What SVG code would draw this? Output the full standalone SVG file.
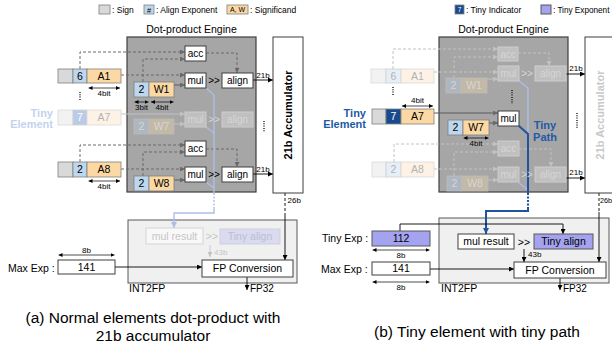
<svg xmlns="http://www.w3.org/2000/svg" width="612" height="352" viewBox="0 0 612 352">
<defs>
<style>
text{font-family:"Liberation Sans",Arial,Helvetica,sans-serif;fill:#000}
.s{font-size:10.5px}
.b{font-size:10px}
.m{text-anchor:middle}
.sm{font-size:8px}
.lg{font-size:8.5px}
.cap{font-size:15.5px;text-anchor:middle}
.eng{fill:#a6a6a6;stroke:#3f3f3f;stroke-width:1.2}
.bx{fill:#fff;stroke:#3f3f3f;stroke-width:1}
.sg{fill:#d9d9d9;stroke:#7f7f7f;stroke-width:.8}
.ae{fill:#bdd7ee;stroke:#7f7f7f;stroke-width:.8}
.sf{fill:#fcd9a4;stroke:#7f7f7f;stroke-width:.8}
.ti{fill:#1a4a8e;stroke:#7f7f7f;stroke-width:.8}
.te{fill:#a3a3ef;stroke:#595959;stroke-width:1}
.fbx{fill:#c0c0c0;stroke:#cdcdcd;stroke-width:1}
.fae{fill:#aeb7c0;stroke:#bcbcbc;stroke-width:.8}
.fsf{fill:#c4b8a6;stroke:#bcbcbc;stroke-width:.8}
.ftx{fill:#d6d6d6}
.fsg{fill:#f2f2f2;stroke:#d9d9d9;stroke-width:.8}
.fae2{fill:#e6eff8;stroke:#d0d0d0;stroke-width:.8}
.fsf2{fill:#fef2e6;stroke:#d9d9d9;stroke-width:.8}
.fti{fill:#b9cbe6;stroke:#d0d0d0;stroke-width:.8}
.ftx2{fill:#b3b3b3}
.dl{fill:none;stroke:#6a6a6a;stroke-width:1;stroke-dasharray:3 2}
.sl{fill:none;stroke:#5a5a5a;stroke-width:1}
.fdl{fill:none;stroke:#c2c2c2;stroke-width:1;stroke-dasharray:3 2}
.fsl{fill:none;stroke:#c2c2c2;stroke-width:1}
.kl{fill:none;stroke:#000;stroke-width:.9}
.dim{fill:none;stroke:#000;stroke-width:.7}
.dots{fill:none;stroke:#000;stroke-width:1.3;stroke-dasharray:1 1.3}
.tb{font-weight:bold;font-size:11px}
</style>
<marker id="ak" viewBox="0 0 6 6" refX="6" refY="3" markerWidth="5" markerHeight="5" markerUnits="userSpaceOnUse" orient="auto"><path d="M0,0L6,3L0,6z" fill="#000"/></marker>
<marker id="ag" viewBox="0 0 6 6" refX="6" refY="3" markerWidth="5" markerHeight="5" markerUnits="userSpaceOnUse" orient="auto"><path d="M0,0L6,3L0,6z" fill="#6a6a6a"/></marker>
<marker id="agl" viewBox="0 0 6 6" refX="6" refY="3" markerWidth="5" markerHeight="5" markerUnits="userSpaceOnUse" orient="auto"><path d="M0,0L6,3L0,6z" fill="#c2c2c2"/></marker>
<marker id="ab" viewBox="0 0 6 6" refX="6" refY="3" markerWidth="6" markerHeight="6" markerUnits="userSpaceOnUse" orient="auto"><path d="M0,0L6,3L0,6z" fill="#1f55a0"/></marker>
<marker id="abl" viewBox="0 0 6 6" refX="6" refY="3" markerWidth="6" markerHeight="6" markerUnits="userSpaceOnUse" orient="auto"><path d="M0,0L6,3L0,6z" fill="#aebde8"/></marker>
<marker id="dm" viewBox="0 0 6 6" refX="6" refY="3" markerWidth="4" markerHeight="4" markerUnits="userSpaceOnUse" orient="auto-start-reverse"><path d="M0,0L6,3L0,6z" fill="#000"/></marker>
</defs>

<!-- legends -->
<g id="legend-left">
<rect x="99" y="5" width="11" height="9" class="sg"/>
<text x="112" y="13" class="lg">: Sign</text>
<rect x="144" y="5" width="10" height="9" class="ae"/>
<text x="149" y="12.5" class="m" font-size="7.5">#</text>
<text x="156" y="13" class="lg">: Align Exponent</text>
<rect x="227" y="5" width="21" height="9" class="sf"/>
<text x="237.5" y="12.3" class="m" font-size="7">A, W</text>
<text x="250" y="13" class="lg">: Significand</text>
</g>
<g id="legend-right">
<rect x="455" y="5" width="9" height="9" class="ti"/>
<text x="459.5" y="12.3" class="m" font-size="6.5" style="fill:#fff">7</text>
<text x="466" y="13" class="lg">: Tiny Indicator</text>
<rect x="541" y="5" width="10" height="9" class="te"/>
<text x="553" y="13" font-size="8.2px">: Tiny Exponent</text>
</g>

<!-- ================= LEFT PANEL (a) ================= -->
<g id="a-engine">
<text x="191.5" y="33" class="s m">Dot-product Engine</text>
<rect x="127" y="37" width="129" height="155" class="eng"/>
</g>
<g id="a-int2fp">
<rect x="128" y="220" width="169" height="63" fill="#f0f0f0" stroke="#595959" stroke-width="1"/>
<text x="129" y="292" class="s">INT2FP</text>
</g>

<g id="a-connectors">
<path class="dl" d="M80,69V52H185" marker-end="url(#ag)"/>
<path class="dl" d="M143,82V59H185" marker-end="url(#ag)"/>
<path class="dl" d="M121,75H185" marker-end="url(#ag)"/>
<path class="sl" d="M174,85H185" marker-end="url(#ag)"/>
<path class="dl" d="M206,53H237V73" marker-end="url(#ag)"/>
<path class="kl" d="M253,80H273" marker-end="url(#ak)"/>
<text x="263" y="77.5" class="sm m">21b</text>
<path class="fsl" d="M121,114H185" marker-end="url(#agl)"/>
<path class="fsl" d="M174,124H185" marker-end="url(#agl)"/>
<path class="dl" d="M80,162V145H185" marker-end="url(#ag)"/>
<path class="dl" d="M143,176V152H185" marker-end="url(#ag)"/>
<path class="dl" d="M121,169H185" marker-end="url(#ag)"/>
<path class="sl" d="M174,180H185" marker-end="url(#ag)"/>
<path class="dl" d="M206,149H237V167" marker-end="url(#ag)"/>
<path class="kl" d="M253,174H273" marker-end="url(#ak)"/>
<text x="263" y="171.5" class="sm m">21b</text>
<path class="dots" d="M264,121V132"/>
<path class="dots" d="M80,92V100"/>
<g fill="none" stroke="#aebde8" stroke-width="1.4">
<path d="M206,88L214,95V193"/>
<path d="M206,127L214,133"/>
<path d="M206,182L214,188"/>
<path d="M214,193V209" stroke-dasharray="2 1.5"/>
<path d="M214,209V213H174V228" marker-end="url(#abl)"/>
</g>
<path d="M210,245V257" fill="none" stroke="#c6c6c6" stroke-width=".9" marker-end="url(#agl)"/>
<text x="214" y="255" class="sm" style="fill:#c6c6c6">43b</text>
<path class="kl" d="M115,267H202" marker-end="url(#ak)"/>
<path d="M285,193V216" fill="none" stroke="#000" stroke-width=".9" stroke-dasharray="3 2"/>
<path class="kl" d="M285,216V260" marker-end="url(#ak)"/>
<text x="287.5" y="203" class="sm">26b</text>
<path class="kl" d="M247,277V290" marker-end="url(#ak)"/>
<text x="250" y="292" class="b">FP32</text>
<path class="dim" d="M88.5,88H120" marker-start="url(#dm)" marker-end="url(#dm)"/>
<text x="104" y="95.5" class="sm m">4bit</text>
<path class="dim" d="M134.5,102H148.5" marker-start="url(#dm)" marker-end="url(#dm)"/>
<text x="141.5" y="110" class="sm m">3bit</text>
<path class="dim" d="M151,102H173.5" marker-start="url(#dm)" marker-end="url(#dm)"/>
<text x="162" y="110" class="sm m">4bit</text>
<path class="dim" d="M88.5,181H120" marker-start="url(#dm)" marker-end="url(#dm)"/>
<text x="104" y="188.5" class="sm m">4bit</text>
<path class="dim" d="M58.5,255H114.5" marker-start="url(#dm)" marker-end="url(#dm)"/>
<text x="86.5" y="252.5" class="sm m">8b</text>
</g>

<g id="a-accumulator">
<rect x="273" y="37" width="30" height="156" class="bx"/>
<text transform="translate(292,115) rotate(-90)" class="m" font-size="11" font-weight="bold">21b Accumulator</text>
</g>
<g id="a-row-a1">
<rect x="58" y="69" width="15" height="14" class="sg"/>
<rect x="73" y="69" width="14" height="14" class="ae"/><text x="80" y="79.8" class="s m">6</text>
<rect x="87" y="69" width="34" height="14" class="sf"/><text x="104" y="79.8" class="s m">A1</text>
</g>
<g id="a-tiny-label">
<text x="53" y="116.5" text-anchor="end" class="tb" style="fill:#c3d3ee">Tiny</text>
<text x="53" y="128" text-anchor="end" class="tb" style="fill:#c3d3ee">Element</text>
</g>
<g id="a-row-a7">
<rect x="58" y="110" width="15" height="15" class="fsg"/>
<rect x="73" y="110" width="14" height="15" class="fti"/><text x="80" y="121.3" class="s m" style="fill:#fff">7</text>
<rect x="87" y="110" width="34" height="15" class="fsf2"/><text x="104" y="121.3" class="s m ftx2">A7</text>
</g>
<g id="a-row-a8">
<rect x="58" y="162" width="15" height="15" class="sg"/>
<rect x="73" y="162" width="14" height="15" class="ae"/><text x="80" y="173.3" class="s m">2</text>
<rect x="87" y="162" width="34" height="15" class="sf"/><text x="104" y="173.3" class="s m">A8</text>
</g>
<g id="a-w1">
<rect x="134" y="82" width="15" height="15" class="ae"/><text x="141.5" y="93.3" class="s m">2</text>
<rect x="149" y="82" width="25" height="15" class="sf"/><text x="161.5" y="93.3" class="s m">W1</text>
</g>
<g id="a-w7">
<rect x="134" y="119" width="15" height="15" class="fae"/><text x="141.5" y="130.3" class="s m ftx">2</text>
<rect x="149" y="119" width="25" height="15" class="fsf"/><text x="161.5" y="130.3" class="s m ftx">W7</text>
</g>
<g id="a-w8">
<rect x="134" y="176" width="15" height="15" class="ae"/><text x="141.5" y="187.3" class="s m">2</text>
<rect x="149" y="176" width="25" height="15" class="sf"/><text x="161.5" y="187.3" class="s m">W8</text>
</g>
<g id="a-acc1"><rect x="185" y="46" width="21" height="15" class="bx"/><text x="195.5" y="57.1" class="b m">acc</text></g>
<g id="a-mul1"><rect x="185" y="73" width="21" height="15" class="bx"/><text x="195.5" y="84.1" class="b m">mul</text></g>
<text x="214" y="84" class="b m">&gt;&gt;</text>
<g id="a-align1"><rect x="222" y="73" width="31" height="15" class="bx"/><text x="237.5" y="84.1" class="b m">align</text></g>
<g id="a-mul7"><rect x="185" y="112" width="21" height="15" class="fbx"/><text x="195.5" y="123.1" class="b m ftx">mul</text></g>
<text x="214" y="123" class="b m ftx">&gt;&gt;</text>
<g id="a-align7"><rect x="222" y="112" width="31" height="15" class="fbx"/><text x="237.5" y="123.1" class="b m ftx">align</text></g>
<g id="a-acc2"><rect x="185" y="141" width="21" height="15" class="bx"/><text x="195.5" y="152.1" class="b m">acc</text></g>
<g id="a-mul2"><rect x="185" y="167" width="21" height="15" class="bx"/><text x="195.5" y="178.1" class="b m">mul</text></g>
<text x="214" y="178" class="b m">&gt;&gt;</text>
<g id="a-align2"><rect x="222" y="167" width="31" height="15" class="bx"/><text x="237.5" y="178.1" class="b m">align</text></g>

<g id="a-mulresult"><rect x="146" y="228" width="57" height="16" fill="#f8f8f8" stroke="#d4d4d4"/><text x="174.5" y="239.8" class="s m" style="fill:#c6c6c6">mul result</text></g>
<text x="212" y="240" class="s m" style="fill:#c6c6c6">&gt;&gt;</text>
<g id="a-tinyalign"><rect x="220" y="229" width="60" height="15" fill="#dadaf0" stroke="#cfcfdf"/><text x="250" y="240.3" class="s m" style="fill:#bdbdd0">Tiny align</text></g>
<g id="a-fpconv"><rect x="202" y="260" width="91" height="17" class="bx"/><text x="247.5" y="272.3" class="s m">FP Conversion</text></g>
<g id="a-maxexp">
<text x="8" y="272" class="s">Max Exp :</text>
<rect x="58" y="260" width="57" height="14" class="bx"/><text x="86.5" y="270.8" class="s m">141</text>
</g>
<text x="153" y="323" class="cap">(a) Normal elements dot-product with</text>
<text x="153" y="341" class="cap">21b accumulator</text>

<!-- ================= RIGHT PANEL (b) ================= -->
<g id="b-engine">
<text x="503.5" y="33" class="s m">Dot-product Engine</text>
<rect x="439" y="37" width="129" height="155" class="eng"/>
</g>
<g id="b-int2fp">
<rect x="439" y="218" width="170" height="65" fill="#f0f0f0" stroke="#595959" stroke-width="1"/>
<text x="441" y="292" class="s">INT2FP</text>
</g>

<g id="b-connectors">
<path class="fdl" d="M393,69V49H498" marker-end="url(#agl)"/>
<path class="fdl" d="M454,78V57H498" marker-end="url(#agl)"/>
<path class="fdl" d="M434,72H498" marker-end="url(#agl)"/>
<path class="fsl" d="M487,79H498" marker-end="url(#agl)"/>
<path class="fdl" d="M518,53H549V66" marker-end="url(#agl)"/>
<path class="kl" d="M566,74H585" marker-end="url(#ak)"/>
<text x="576" y="71" class="sm m">21b</text>
<path class="sl" d="M434,113H498" marker-end="url(#ag)"/>
<path class="sl" d="M489,123H498" marker-end="url(#ag)"/>
<path class="fdl" d="M394,162V144H498" marker-end="url(#agl)"/>
<path class="fdl" d="M454,176V152H498" marker-end="url(#agl)"/>
<path class="fdl" d="M434,169H498" marker-end="url(#agl)"/>
<path class="fsl" d="M488,180H498" marker-end="url(#agl)"/>
<path class="fdl" d="M519,149H551V167" marker-end="url(#agl)"/>
<path class="kl" d="M566,178H585" marker-end="url(#ak)"/>
<text x="576" y="175" class="sm m">21b</text>
<path class="dots" d="M577,113V128"/>
<path class="dots" d="M393,87V96"/>
<path class="dots" d="M512,90V104"/>
<g fill="none" stroke="#aebde8" stroke-width="1.4">
<path d="M519,81L528,88V134"/>
<path d="M519,183L528,190"/>
</g>
<g fill="none" stroke="#1f55a0" stroke-width="2">
<path d="M519,126L528,134V193"/>
<path d="M528,193V208" stroke-dasharray="2 1.5"/>
<path d="M528,208V211H486V234" marker-end="url(#ab)"/>
</g>
<path class="kl" d="M400,231V224H563V234" marker-end="url(#ak)"/>
<path class="kl" d="M524,249V262" marker-end="url(#ak)"/>
<text x="528" y="257" class="sm">43b</text>
<path class="kl" d="M430,269H514" marker-end="url(#ak)"/>
<path d="M599,193V212" fill="none" stroke="#000" stroke-width=".9" stroke-dasharray="3 2"/>
<path class="kl" d="M599,212V262" marker-end="url(#ak)"/>
<text x="600" y="203" font-size="7.2px">26b</text>
<path class="kl" d="M560,278V290" marker-end="url(#ak)"/>
<text x="563" y="292" class="b">FP32</text>
<path class="dim" d="M402,106H433" marker-start="url(#dm)" marker-end="url(#dm)"/>
<text x="417.5" y="102.5" class="sm m">4bit</text>
<path class="dim" d="M463.5,138H488.5" marker-start="url(#dm)" marker-end="url(#dm)"/>
<text x="476" y="145.5" class="sm m">4bit</text>
<path class="dim" d="M372.5,250H429.5" marker-start="url(#dm)" marker-end="url(#dm)"/>
<text x="401" y="258" class="sm m">8b</text>
<path class="dim" d="M372.5,282H429.5" marker-start="url(#dm)" marker-end="url(#dm)"/>
<text x="401" y="290" class="sm m">8b</text>
</g>

<g id="b-accumulator">
<rect x="585" y="37" width="30" height="156" class="bx"/>
<text transform="translate(604,115) rotate(-90)" class="m" font-size="11" font-weight="bold" style="fill:#c8c8c8">21b Accumulator</text>
</g>
<g id="b-row-a1">
<rect x="371" y="69" width="15" height="14" class="fsg"/>
<rect x="386" y="69" width="15" height="14" class="fae2"/><text x="393.5" y="79.8" class="s m ftx2">6</text>
<rect x="401" y="69" width="33" height="14" class="fsf2"/><text x="417.5" y="79.8" class="s m ftx2">A1</text>
</g>
<g id="b-tiny-label">
<text x="366" y="116.5" text-anchor="end" class="tb" style="fill:#1f5aa6">Tiny</text>
<text x="366" y="128" text-anchor="end" class="tb" style="fill:#1f5aa6">Element</text>
</g>
<g id="b-row-a7">
<rect x="372" y="109" width="14" height="15" class="sg"/>
<rect x="386" y="109" width="15" height="15" class="ti"/><text x="393.5" y="120.3" class="s m" style="fill:#fff">7</text>
<rect x="401" y="109" width="33" height="15" class="sf"/><text x="417.5" y="120.3" class="s m">A7</text>
</g>
<g id="b-row-a8">
<rect x="372" y="162" width="14" height="15" class="fsg"/>
<rect x="386" y="162" width="15" height="15" class="fae2"/><text x="393.5" y="173.3" class="s m ftx2">2</text>
<rect x="401" y="162" width="33" height="15" class="fsf2"/><text x="417.5" y="173.3" class="s m ftx2">A8</text>
</g>
<g id="b-w1">
<rect x="446" y="78" width="15" height="15" class="fae"/><text x="453.5" y="89.3" class="s m ftx">2</text>
<rect x="461" y="78" width="26" height="15" class="fsf"/><text x="474" y="89.3" class="s m ftx">W1</text>
</g>
<g id="b-w7">
<rect x="448" y="120" width="15" height="15" class="ae"/><text x="455.5" y="131.3" class="s m">2</text>
<rect x="463" y="120" width="26" height="15" class="sf"/><text x="476" y="131.3" class="s m">W7</text>
</g>
<g id="b-w8">
<rect x="447" y="176" width="15" height="15" class="fae"/><text x="454.5" y="187.3" class="s m ftx">2</text>
<rect x="462" y="176" width="26" height="15" class="fsf"/><text x="475" y="187.3" class="s m ftx">W8</text>
</g>
<g id="b-acc1"><rect x="498" y="47" width="20" height="14" class="fbx"/><text x="508" y="57.6" class="b m ftx">acc</text></g>
<g id="b-mul1"><rect x="498" y="66" width="21" height="15" class="fbx"/><text x="508.5" y="77.1" class="b m ftx">mul</text></g>
<text x="527" y="77" class="b m ftx">&gt;&gt;</text>
<g id="b-align1"><rect x="535" y="66" width="31" height="15" class="fbx"/><text x="550.5" y="77.1" class="b m ftx">align</text></g>
<g id="b-mul-tiny"><rect x="498" y="111" width="21" height="15" class="bx"/><text x="508.5" y="122.1" class="b m">mul</text></g>
<g id="b-tinypath-label">
<text x="545" y="129" class="tb m" style="fill:#1f5aa6">Tiny</text>
<text x="545" y="141" class="tb m" style="fill:#1f5aa6">Path</text>
</g>
<g id="b-acc2"><rect x="498" y="141" width="21" height="15" class="fbx"/><text x="508.5" y="152.1" class="b m ftx">acc</text></g>
<g id="b-mul2"><rect x="498" y="167" width="21" height="15" class="fbx"/><text x="508.5" y="178.1" class="b m ftx">mul</text></g>
<text x="527" y="178" class="b m ftx">&gt;&gt;</text>
<g id="b-align2"><rect x="535" y="167" width="31" height="15" class="fbx"/><text x="550.5" y="178.1" class="b m ftx">align</text></g>

<g id="b-tinyexp">
<text x="322" y="242" class="s">Tiny Exp :</text>
<rect x="372" y="231" width="58" height="15" class="te"/><text x="401" y="242.3" class="s m">112</text>
</g>
<g id="b-mulresult"><rect x="458" y="234" width="56" height="15" class="bx"/><text x="486" y="245.3" class="s m">mul result</text></g>
<text x="524" y="245.5" class="s m">&gt;&gt;</text>
<g id="b-tinyalign"><rect x="534" y="234" width="59" height="15" class="te"/><text x="563.5" y="245.3" class="s m">Tiny align</text></g>
<g id="b-fpconv"><rect x="514" y="262" width="92" height="16" class="bx"/><text x="560" y="273.8" class="s m">FP Conversion</text></g>
<g id="b-maxexp">
<text x="321" y="273" class="s">Max Exp :</text>
<rect x="372" y="262" width="58" height="13" class="bx"/><text x="401" y="272.3" class="s m">141</text>
</g>
<text x="477" y="337" class="cap">(b) Tiny element with tiny path</text>
</svg>
